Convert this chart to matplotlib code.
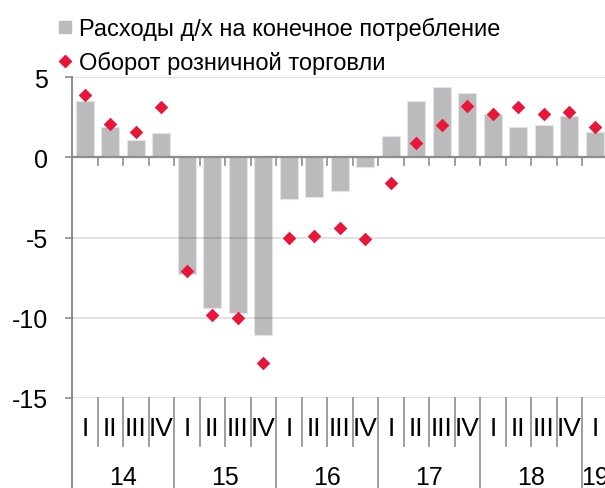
import numpy as np
import matplotlib.pyplot as plt
from matplotlib.lines import Line2D

plt.rcParams['font.family'] = ['Liberation Sans', 'DejaVu Sans']

years = ['14', '15', '16', '17', '18', '19']
quarters = ['I', 'II', 'III', 'IV'] * 5 + ['I']
spending = [3.5, 1.9, 1.1, 1.5,
            -7.3, -9.4, -9.7, -11.1,
            -2.6, -2.45, -2.1, -0.6,
            1.3, 3.5, 4.4, 4.0,
            2.7, 1.9, 2.0, 2.6,
            1.6]
retail = [3.9, 2.1, 1.6, 3.1,
          -7.1, -9.8, -10.0, -12.8,
          -5.0, -4.9, -4.4, -5.1,
          -1.6, 0.9, 2.0, 3.2,
          2.7, 3.1, 2.7, 2.8,
          1.9]

bar_color = '#bbbbbd'
red = '#e8173a'
axis_gray = '#8c8c8c'

fig = plt.figure(figsize=(6.05, 4.89), dpi=100)
ax = fig.add_axes([72 / 605, 90 / 489, 535.5 / 605, 321 / 489])

x = np.arange(len(spending))
ax.bar(x, spending, width=0.71, color=bar_color, edgecolor='#e4e4e4', linewidth=0.8, zorder=2)
ax.scatter(x, retail, marker='D', s=48, color=red, zorder=4, linewidths=0)

ax.set_xlim(-0.5, len(x) - 0.5)
ax.set_ylim(-15, 5)
ax.set_yticks([5, 0, -5, -10, -15])
ax.set_yticklabels(['5', '0', '-5', '-10', '-15'])
for yv in [5, -5, -10, -15]:
    ax.axhline(yv, color='black', alpha=0.14, lw=1.2, zorder=3)
ax.axhline(0, color=axis_gray, lw=1.6, zorder=3)

for s in ['top', 'right', 'bottom']:
    ax.spines[s].set_visible(False)
ax.spines['left'].set_color(axis_gray)
ax.spines['left'].set_linewidth(1.4)
ax.tick_params(axis='y', labelsize=18, length=5, width=1.2, color=axis_gray, pad=12)
ax.set_xticks([])

# small ticks below zero line between quarters
for k in range(1, len(x)):
    ax.plot([k - 0.5, k - 0.5], [0, -0.5], color=axis_gray, lw=1.2, zorder=3)

# category label area
ax.plot([-0.5, -0.5], [-15, -21], color=axis_gray, lw=1.4, clip_on=False)
for k in range(1, len(x) + 1):
    bottom = -21 if k % 4 == 0 else -18
    ax.plot([k - 0.5, k - 0.5], [-15, bottom], color=axis_gray, lw=1.2, clip_on=False)
for i, q in enumerate(quarters):
    ax.text(i, -16.9, q, ha='center', va='center', fontsize=19, clip_on=False)
for j, yr in enumerate(years):
    start = j * 4
    end = min(start + 4, len(x))
    ax.text((start + end - 1) / 2, -19.95, yr, ha='center', va='center', fontsize=18, clip_on=False)

handles = [Line2D([], [], marker='s', color=bar_color, ls='', ms=9),
           Line2D([], [], marker='D', color=red, ls='', ms=6.5)]
labels = ['Расходы д/х на конечное потребление', 'Оборот розничной торговли']
fig.legend(handles, labels, loc='upper left', bbox_to_anchor=(58 / 605, 1 - 18 / 489),
           frameon=False, fontsize=17, handlelength=0.6, handletextpad=0.3,
           labelspacing=0.45, borderaxespad=0, borderpad=0)

fig.savefig('out.png', dpi=100)
